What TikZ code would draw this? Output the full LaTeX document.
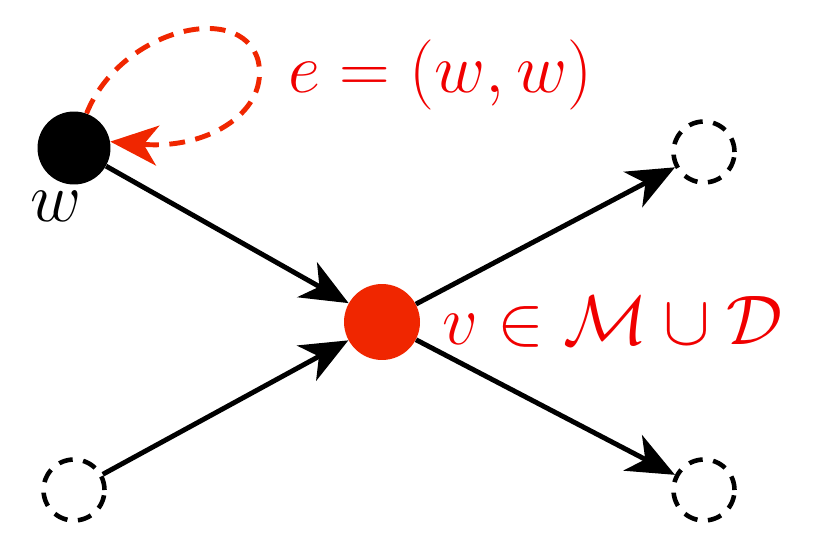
\RequirePackage{fix-cm}
\documentclass[tikz,border=0pt]{standalone}
\usetikzlibrary{arrows.meta}
\begin{document}
\begin{tikzpicture}[x=0.02cm,y=-0.02cm,
  solidn/.style={circle,inner sep=0pt,minimum size=1.46cm},
  ghost/.style={circle,draw,dashed,line width=2.6pt,dash pattern=on 8pt off 6pt,inner sep=0pt,minimum size=1.22cm},
  edge/.style={line width=2.8pt,-{Stealth[length=0.95cm,width=0.8cm,inset=0.28cm]}},
  lbl/.style={font=\fontsize{40}{48}\selectfont}]
\useasboundingbox (0,0) rectangle (830,557);
\definecolor{vred}{RGB}{240,38,0}
\definecolor{tred}{RGB}{240,0,0}
\node[solidn,fill=black] (w) at (74,148) {};
\node[solidn,fill=vred,minimum size=1.52cm] (v) at (382,322) {};
\node[ghost] (tr) at (704,152) {};
\node[ghost] (br) at (704,490) {};
\node[ghost] (bl) at (74,490) {};
\node[lbl] (wl) at (56,206) {$w$};
\node[lbl,text=tred,anchor=west] (vl) at (436,322) {$v\in\mathcal{M}\cup\mathcal{D}$};
\node[lbl,text=tred,anchor=west] (el) at (282,75) {$e=(w,w)$};
\draw[edge] (w) -- (v);
\draw[edge] (bl) -- (v);
\draw[edge] (v) -- (tr);
\draw[edge] (v) -- (br);
\draw[vred,line width=2.8pt,dash pattern=on 9pt off 6pt,-{Stealth[length=0.95cm,width=0.8cm,inset=0.28cm]}]
  (w.70) .. controls (120,30) and (240,0) .. (258,60)
  .. controls (270,110) and (210,150) .. (w.10);
\end{tikzpicture}
\end{document}
